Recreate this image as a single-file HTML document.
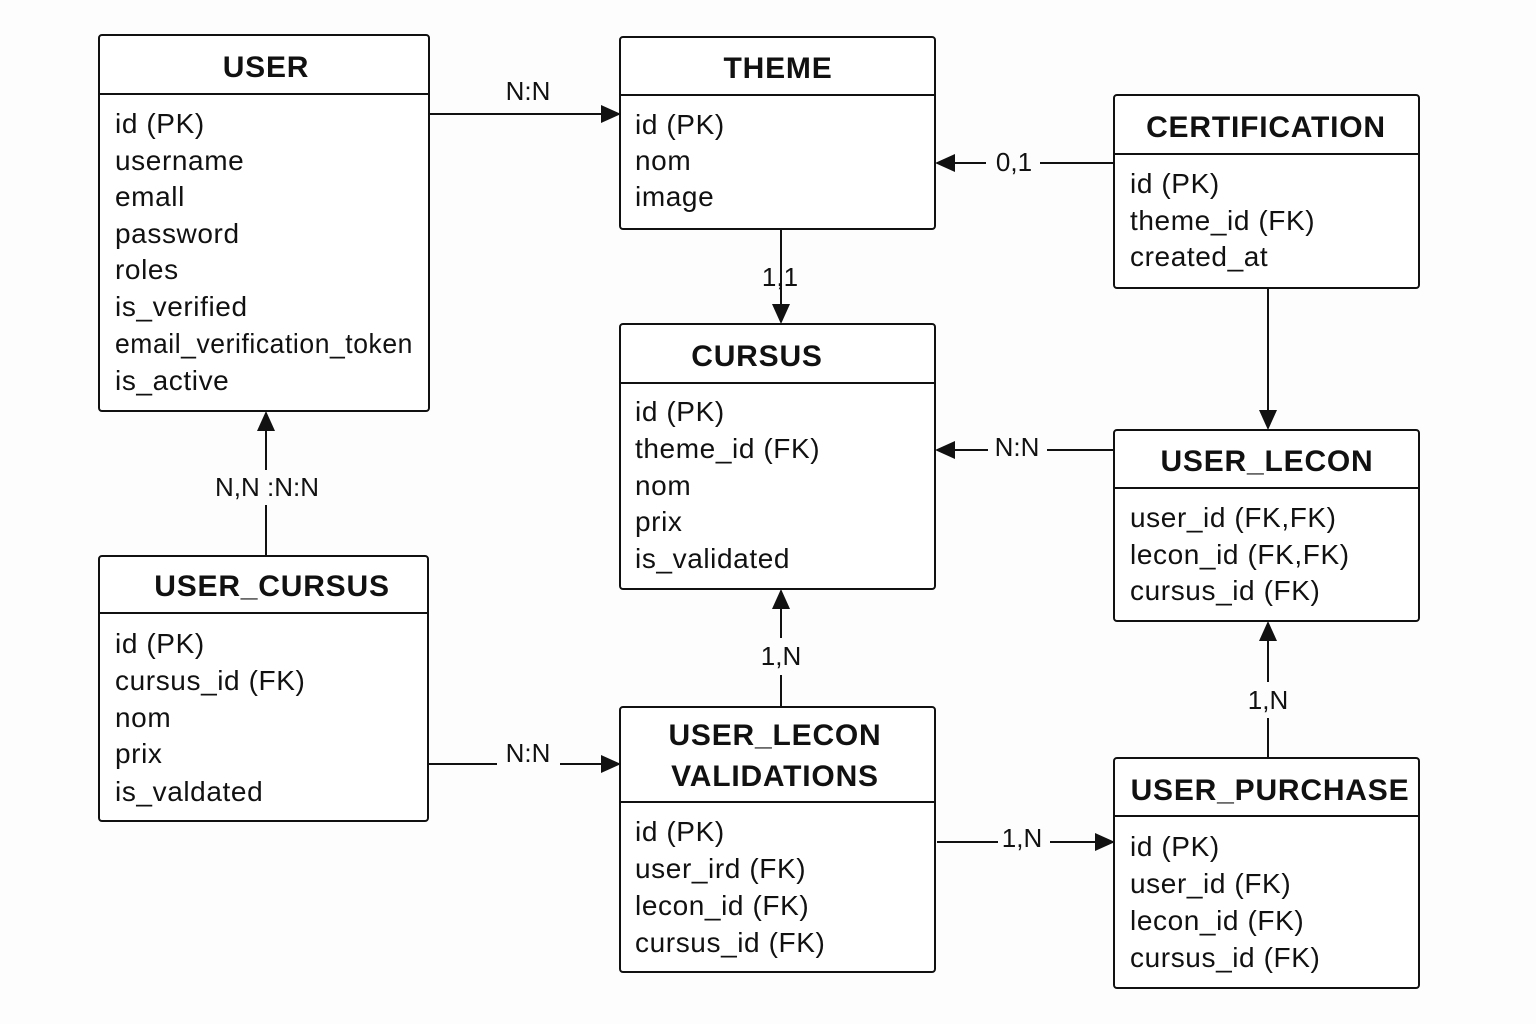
<!DOCTYPE html>
<html><head><meta charset="utf-8"><style>
html,body{margin:0;padding:0;background:#fdfdfd;}
svg{display:block;}
text{font-family:"Liberation Sans",sans-serif;fill:#111;}
.t{font-size:30px;font-weight:bold;text-anchor:middle;letter-spacing:0.8px;}
.r{font-size:28px;letter-spacing:0.6px;}
.l{font-size:26px;text-anchor:middle;}
rect{fill:#fff;stroke:#111;stroke-width:2;}
line{stroke:#111;stroke-width:2;}
</style></head><body>
<svg width="1536" height="1024" viewBox="0 0 1536 1024" xmlns="http://www.w3.org/2000/svg">
<defs>
<marker id="b" markerWidth="20" markerHeight="18" refX="18" refY="9" orient="auto" markerUnits="userSpaceOnUse" viewBox="0 0 20 18"><path d="M0,0 L20,9 L0,18z" fill="#111"/></marker></defs>

<!-- USER -->
<rect x="99" y="35" width="330" height="376" rx="3"/><line x1="99" y1="94" x2="429" y2="94"/>
<text class="t" x="266" y="77">USER</text>
<g class="r"><text x="115" y="133">id (PK)</text><text x="115" y="170">username</text><text x="115" y="206">emall</text><text x="115" y="243">password</text><text x="115" y="279">roles</text><text x="115" y="316">is_verified</text><text x="115" y="353" textLength="298" lengthAdjust="spacingAndGlyphs">email_verification_token</text><text x="115" y="390">is_active</text></g>

<!-- THEME -->
<rect x="620" y="37" width="315" height="192" rx="3"/><line x1="620" y1="95" x2="935" y2="95"/>
<text class="t" x="778" y="78">THEME</text>
<g class="r"><text x="635" y="134">id (PK)</text><text x="635" y="170">nom</text><text x="635" y="206">image</text></g>

<!-- CERTIFICATION -->
<rect x="1114" y="95" width="305" height="193" rx="3"/><line x1="1114" y1="154" x2="1419" y2="154"/>
<text class="t" x="1266" y="137">CERTIFICATION</text>
<g class="r"><text x="1130" y="193">id (PK)</text><text x="1130" y="230">theme_id (FK)</text><text x="1130" y="266">created_at</text></g>

<!-- CURSUS -->
<rect x="620" y="324" width="315" height="265" rx="3"/><line x1="620" y1="383" x2="935" y2="383"/>
<text class="t" x="757" y="366">CURSUS</text>
<g class="r"><text x="635" y="421">id (PK)</text><text x="635" y="458">theme_id (FK)</text><text x="635" y="495">nom</text><text x="635" y="531">prix</text><text x="635" y="568">is_validated</text></g>

<!-- USER_LECON -->
<rect x="1114" y="430" width="305" height="191" rx="3"/><line x1="1114" y1="488" x2="1419" y2="488"/>
<text class="t" x="1267" y="471">USER_LECON</text>
<g class="r"><text x="1130" y="527">user_id (FK,FK)</text><text x="1130" y="564">lecon_id (FK,FK)</text><text x="1130" y="600">cursus_id (FK)</text></g>

<!-- USER_CURSUS -->
<rect x="99" y="556" width="329" height="265" rx="3"/><line x1="99" y1="613" x2="428" y2="613"/>
<text class="t" x="272" y="596">USER_CURSUS</text>
<g class="r"><text x="115" y="653">id (PK)</text><text x="115" y="690">cursus_id (FK)</text><text x="115" y="727">nom</text><text x="115" y="763">prix</text><text x="115" y="801">is_valdated</text></g>

<!-- ULV -->
<rect x="620" y="707" width="315" height="265" rx="3"/><line x1="620" y1="802" x2="935" y2="802"/>
<text class="t" x="775" y="745">USER_LECON</text><text class="t" x="775" y="786">VALIDATIONS</text>
<g class="r"><text x="635" y="841">id (PK)</text><text x="635" y="878">user_ird (FK)</text><text x="635" y="915">lecon_id (FK)</text><text x="635" y="952">cursus_id (FK)</text></g>

<!-- USER_PURCHASE -->
<rect x="1114" y="758" width="305" height="230" rx="3"/><line x1="1114" y1="816" x2="1419" y2="816"/>
<text class="t" x="1270" y="800">USER_PURCHASE</text>
<g class="r"><text x="1130" y="856">id (PK)</text><text x="1130" y="893">user_id (FK)</text><text x="1130" y="930">lecon_id (FK)</text><text x="1130" y="967">cursus_id (FK)</text></g>

<!-- connectors -->
<line x1="429" y1="114" x2="619" y2="114" marker-end="url(#b)"/>
<text class="l" x="528" y="100">N:N</text>

<line x1="1114" y1="163" x2="1040" y2="163"/>
<line x1="986" y1="163" x2="937" y2="163" marker-end="url(#b)"/>
<text class="l" x="1014" y="171">0,1</text>

<line x1="781" y1="229" x2="781" y2="322" marker-end="url(#b)"/>
<text class="l" x="780" y="286">1,1</text>

<line x1="1268" y1="288" x2="1268" y2="428" marker-end="url(#b)"/>

<line x1="1114" y1="450" x2="1047" y2="450"/>
<line x1="988" y1="450" x2="937" y2="450" marker-end="url(#b)"/>
<text class="l" x="1017" y="456">N:N</text>

<line x1="266" y1="556" x2="266" y2="505"/>
<line x1="266" y1="470" x2="266" y2="413" marker-end="url(#b)"/>
<text class="l" x="267" y="496">N,N :N:N</text>

<line x1="781" y1="707" x2="781" y2="675"/>
<line x1="781" y1="638" x2="781" y2="591" marker-end="url(#b)"/>
<text class="l" x="781" y="665">1,N</text>

<line x1="429" y1="764" x2="497" y2="764"/>
<line x1="560" y1="764" x2="619" y2="764" marker-end="url(#b)"/>
<text class="l" x="528" y="762">N:N</text>

<line x1="937" y1="842" x2="998" y2="842"/>
<line x1="1050" y1="842" x2="1113" y2="842" marker-end="url(#b)"/>
<text class="l" x="1022" y="847">1,N</text>

<line x1="1268" y1="758" x2="1268" y2="718"/>
<line x1="1268" y1="682" x2="1268" y2="623" marker-end="url(#b)"/>
<text class="l" x="1268" y="709">1,N</text>
</svg>
</body></html>
